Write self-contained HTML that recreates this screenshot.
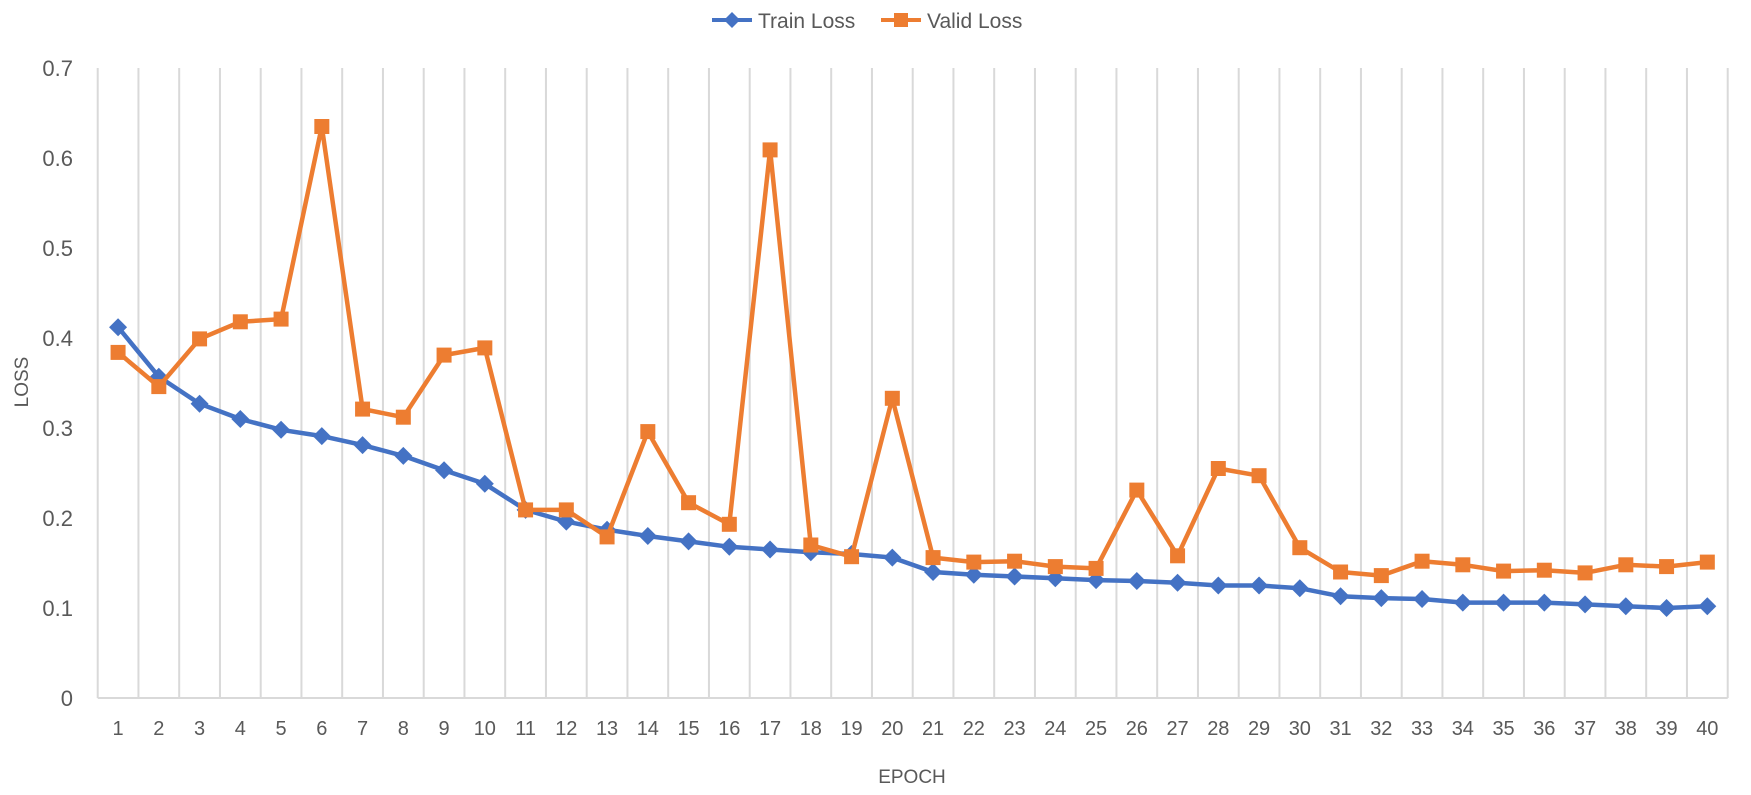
<!DOCTYPE html>
<html><head><meta charset="utf-8"><style>html,body{margin:0;padding:0;background:#fff}svg{display:block}</style></head>
<body>
<svg id="c" width="1751" height="795" xmlns="http://www.w3.org/2000/svg" font-family="Liberation Sans, sans-serif" fill="#595959"></svg>
<script>
const T=[0.412,0.357,0.327,0.310,0.298,0.291,0.281,0.269,0.253,0.238,0.209,0.196,0.187,0.180,0.174,0.168,0.165,0.162,0.160,0.156,0.140,0.137,0.135,0.133,0.131,0.130,0.128,0.125,0.125,0.122,0.113,0.111,0.110,0.106,0.106,0.106,0.104,0.102,0.100,0.102];
const V=[0.384,0.346,0.399,0.418,0.421,0.635,0.321,0.312,0.381,0.389,0.209,0.209,0.179,0.296,0.217,0.193,0.609,0.170,0.157,0.333,0.156,0.151,0.152,0.146,0.144,0.231,0.158,0.255,0.247,0.167,0.140,0.136,0.152,0.148,0.141,0.142,0.139,0.148,0.146,0.151];
const L=97.7,R=1727.7,B=698,Top=68,w=(R-L)/40;
const X=i=>L+w*(i+0.5),Y=v=>B-v/0.7*(B-Top);
let s='';
for(let k=0;k<=40;k++)s+=`<line x1="${L+w*k}" y1="${Top}" x2="${L+w*k}" y2="${B}" stroke="#d9d9d9" stroke-width="2"/>`;
s+=`<line x1="${L}" y1="${B}" x2="${R}" y2="${B}" stroke="#d9d9d9" stroke-width="2"/>`;
for(let k=0;k<=7;k++)s+=`<text x="73" y="${Y(k/10)+8}" font-size="22" text-anchor="end">${k==0?'0':(k/10).toFixed(1)}</text>`;
for(let i=0;i<40;i++)s+=`<text x="${X(i)}" y="735" font-size="20" text-anchor="middle">${i+1}</text>`;
s+=`<text x="912" y="783" font-size="19" text-anchor="middle">EPOCH</text>`;
s+=`<text transform="translate(28,382) rotate(-90)" font-size="19" text-anchor="middle">LOSS</text>`;
const path=a=>a.map((v,i)=>(i?'L':'M')+X(i).toFixed(1)+' '+Y(v).toFixed(1)).join(' ');
s+=`<path d="${path(T)}" fill="none" stroke="#4472C4" stroke-width="4.5" stroke-linejoin="round"/>`;
T.forEach((v,i)=>{const x=X(i),y=Y(v);s+=`<polygon points="${x},${y-9} ${x+9},${y} ${x},${y+9} ${x-9},${y}" fill="#4472C4"/>`;});
s+=`<path d="${path(V)}" fill="none" stroke="#ED7D31" stroke-width="4.5" stroke-linejoin="round"/>`;
V.forEach((v,i)=>{const x=X(i),y=Y(v);s+=`<rect x="${x-7.5}" y="${y-7.5}" width="15" height="15" fill="#ED7D31"/>`;});
s+=`<line x1="712" y1="20" x2="752" y2="20" stroke="#4472C4" stroke-width="4"/><polygon points="732,12 740,20 732,28 724,20" fill="#4472C4"/>`;
s+=`<text x="758" y="28" font-size="21">Train Loss</text>`;
s+=`<line x1="881" y1="20" x2="921" y2="20" stroke="#ED7D31" stroke-width="4"/><rect x="894" y="13" width="14" height="14" fill="#ED7D31"/>`;
s+=`<text x="927" y="28" font-size="21">Valid Loss</text>`;
document.getElementById('c').innerHTML=s;
</script>
</body></html>
